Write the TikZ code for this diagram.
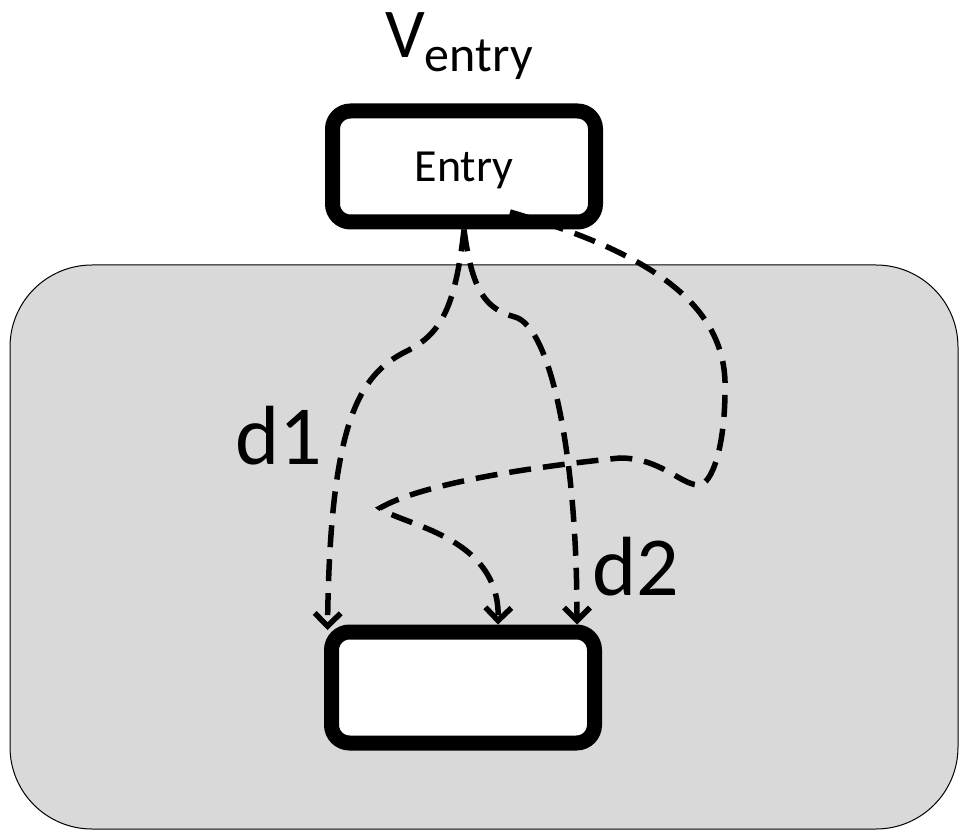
\documentclass[tikz,border=0pt]{standalone}
\usepackage{fontspec}
\setmainfont{Carlito}
\usepackage{xcolor}
\usepackage{tikz}
\usetikzlibrary{arrows.meta}
\definecolor{panel}{HTML}{D9D9D9}

\begin{document}
\begin{tikzpicture}[x=1pt,y=1pt,
    blk/.style={draw, line width=15pt, rounded corners=18pt, fill=white,
      minimum width=263pt, minimum height=111pt, inner sep=0pt},
    flow/.style={line width=5.5pt, dash pattern=on 22pt off 12pt,
      -{Straight Barb[length=13pt,width=26pt]}}]
    \useasboundingbox (0,0) rectangle (959,831);
    \draw [fill=panel, line width=1pt, rounded corners=82pt] (10,2) rectangle (958,566);
    \node [blk, font=\fontsize{46}{50}\selectfont, text depth=0pt] (entry) at (464,664.5) {Entry};
    \node [blk] (succ) at (463,143.5) {};
    \node [anchor=base, font=\fontsize{70}{80}\selectfont] (ventry) at (459,773)
      {V\raisebox{-14pt}{\fontsize{50}{60}\selectfont entry}};
    \node [anchor=base, font=\fontsize{84}{90}\selectfont] (d1) at (279,366) {d1};
    \node [anchor=base, font=\fontsize{84}{90}\selectfont] (d2) at (636,235) {d2};
    \draw [flow] (entry.south) .. controls (455,521) and (440,496) .. (405,479)
      .. controls (360,456) and (330,411) .. ([shift={(3.5,-5.5)}]succ.north west);
    \draw [flow] (entry.south) .. controls (472,541) and (485,522) .. (515,514)
      .. controls (550,504) and (577,381) .. ([xshift=114pt]succ.north);
    \draw [flow] ([shift={(46,17.5)}]entry.south) .. controls (640,581) and (728,531) .. (725,441)
      .. controls (725,385) and (712,345) .. (698,346)
      .. controls (680,347) and (660,373) .. (620,373)
      .. controls (520,363) and (420,346) .. (380,323)
      .. controls (400,306) and (500,296) .. ([xshift=35pt]succ.north);
\end{tikzpicture}
\end{document}
